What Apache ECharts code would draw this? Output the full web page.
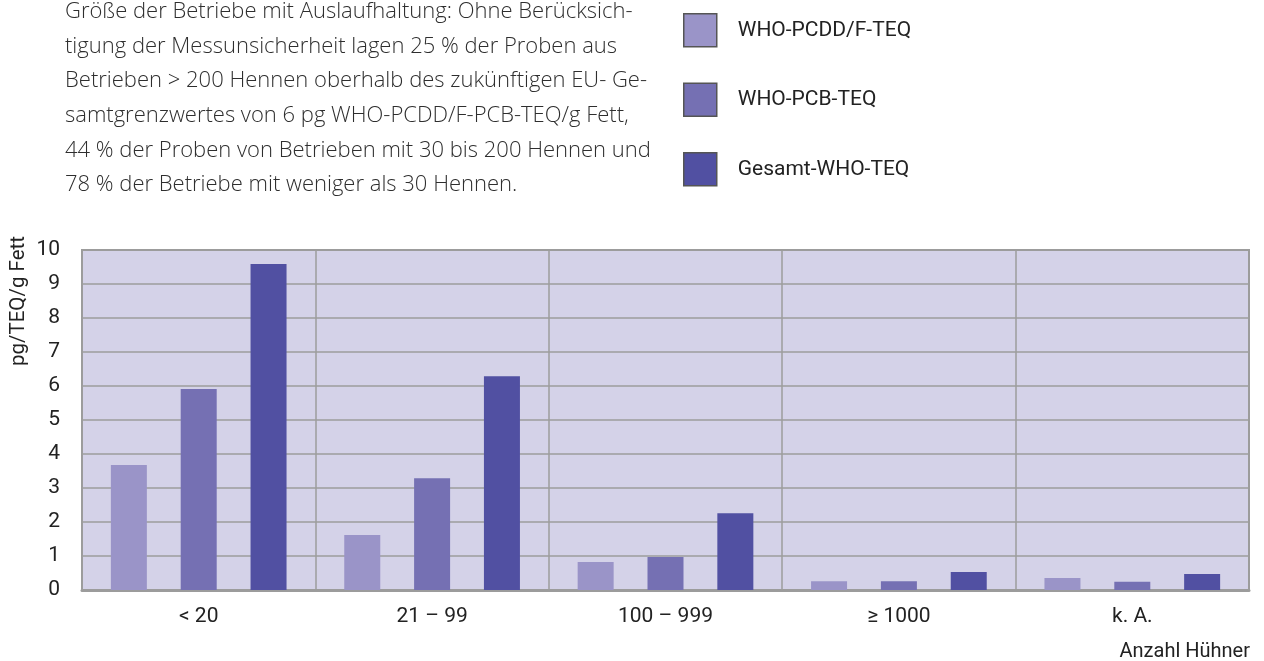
<!DOCTYPE html>
<html><head><meta charset="utf-8">
<script src="https://cdn.jsdelivr.net/npm/echarts@6/dist/echarts.min.js"></script>
<style>html,body{margin:0;padding:0;background:#fff}#c{width:1264px;height:661px}</style>
</head><body><div id="c"></div>
<script>
const categories = ['< 20', '21 – 99', '100 – 999', '≥ 1000', 'k. A.'];
const seriesNames = ['WHO-PCDD/F-TEQ', 'WHO-PCB-TEQ', 'Gesamt-WHO-TEQ'];
const pcddValues = [3.68, 1.62, 0.82, 0.26, 0.35];
const pcbValues = [5.91, 3.29, 0.97, 0.26, 0.24];
const totalValues = [9.59, 6.29, 2.26, 0.53, 0.47];
const yTicks = [0, 10, 1];
const paragraphLines = [
  'Größe der Betriebe mit Auslaufhaltung: Ohne Berücksich-',
  'tigung der Messunsicherheit lagen 25 % der Proben aus',
  'Betrieben > 200 Hennen oberhalb des zukünftigen EU- Ge-',
  'samtgrenzwertes von 6 pg WHO-PCDD/F-PCB-TEQ/g Fett,',
  '44 % der Proben von Betrieben mit 30 bis 200 Hennen und',
  '78 % der Betriebe mit weniger als 30 Hennen.'
];
const colors = ['#9a94c8', '#7570b3', '#5150a2'];
const labelFont = 'Roboto, sans-serif';

const chart = echarts.init(document.getElementById('c'), null, {renderer: 'canvas'});
const seriesData = [pcddValues, pcbValues, totalValues];
const graphics = paragraphLines.map((t, i) => ({
  type: 'text', x: 65, y: 12 + i * 34.6,
  style: {text: t, font: '300 22px "Open Sans", sans-serif', fill: '#2e2e2e', verticalAlign: 'middle', align: 'left'}
}));
graphics.push({
  type: 'text', x: 19, y: 366, rotation: Math.PI / 2,
  style: {text: 'pg/TEQ/g Fett', font: '20.5px ' + labelFont, fill: '#222', align: 'left', verticalAlign: 'middle'}
});
graphics.push({
  type: 'text', x: 1250, y: 652,
  style: {text: 'Anzahl Hühner', font: '20px ' + labelFont, fill: '#222', align: 'right', verticalAlign: 'middle'}
});

chart.setOption({
  animation: false,
  color: colors,
  textStyle: {fontFamily: labelFont},
  legend: {
    orient: 'vertical', left: 683, top: 13, padding: 0,
    itemWidth: 33, itemHeight: 33, itemGap: 35,
    icon: 'rect',
    itemStyle: {borderColor: '#555', borderWidth: 1.5},
    textStyle: {fontSize: 21, color: '#222', fontFamily: labelFont, padding: [0, 0, 0, 16]},
    data: seriesNames
  },
  graphic: graphics,
  grid: {
    left: 82, right: 15, top: 250, bottom: 71,
    show: true, backgroundColor: '#d4d2e8', borderColor: '#9c9c9c', borderWidth: 2
  },
  xAxis: {
    type: 'category', data: categories,
    axisLine: {show: true, lineStyle: {color: '#9c9c9c', width: 3}},
    axisTick: {show: false},
    axisLabel: {fontSize: 21, color: '#222', margin: 16, fontFamily: labelFont},
    splitLine: {show: true, lineStyle: {color: '#9c9c9c', width: 1.5}}
  },
  yAxis: {
    type: 'value', min: yTicks[0], max: yTicks[1], interval: yTicks[2],
    axisLine: {show: false}, axisTick: {show: false},
    axisLabel: {fontSize: 21, color: '#222', margin: 22, fontFamily: labelFont},
    splitLine: {show: true, lineStyle: {color: '#9c9c9c', width: 1.5}}
  },
  series: seriesNames.map((n, i) => ({
    name: n, type: 'bar', data: seriesData[i],
    barWidth: 36, barGap: '94%',
    itemStyle: {color: colors[i]}
  }))
});
</script></body></html>
